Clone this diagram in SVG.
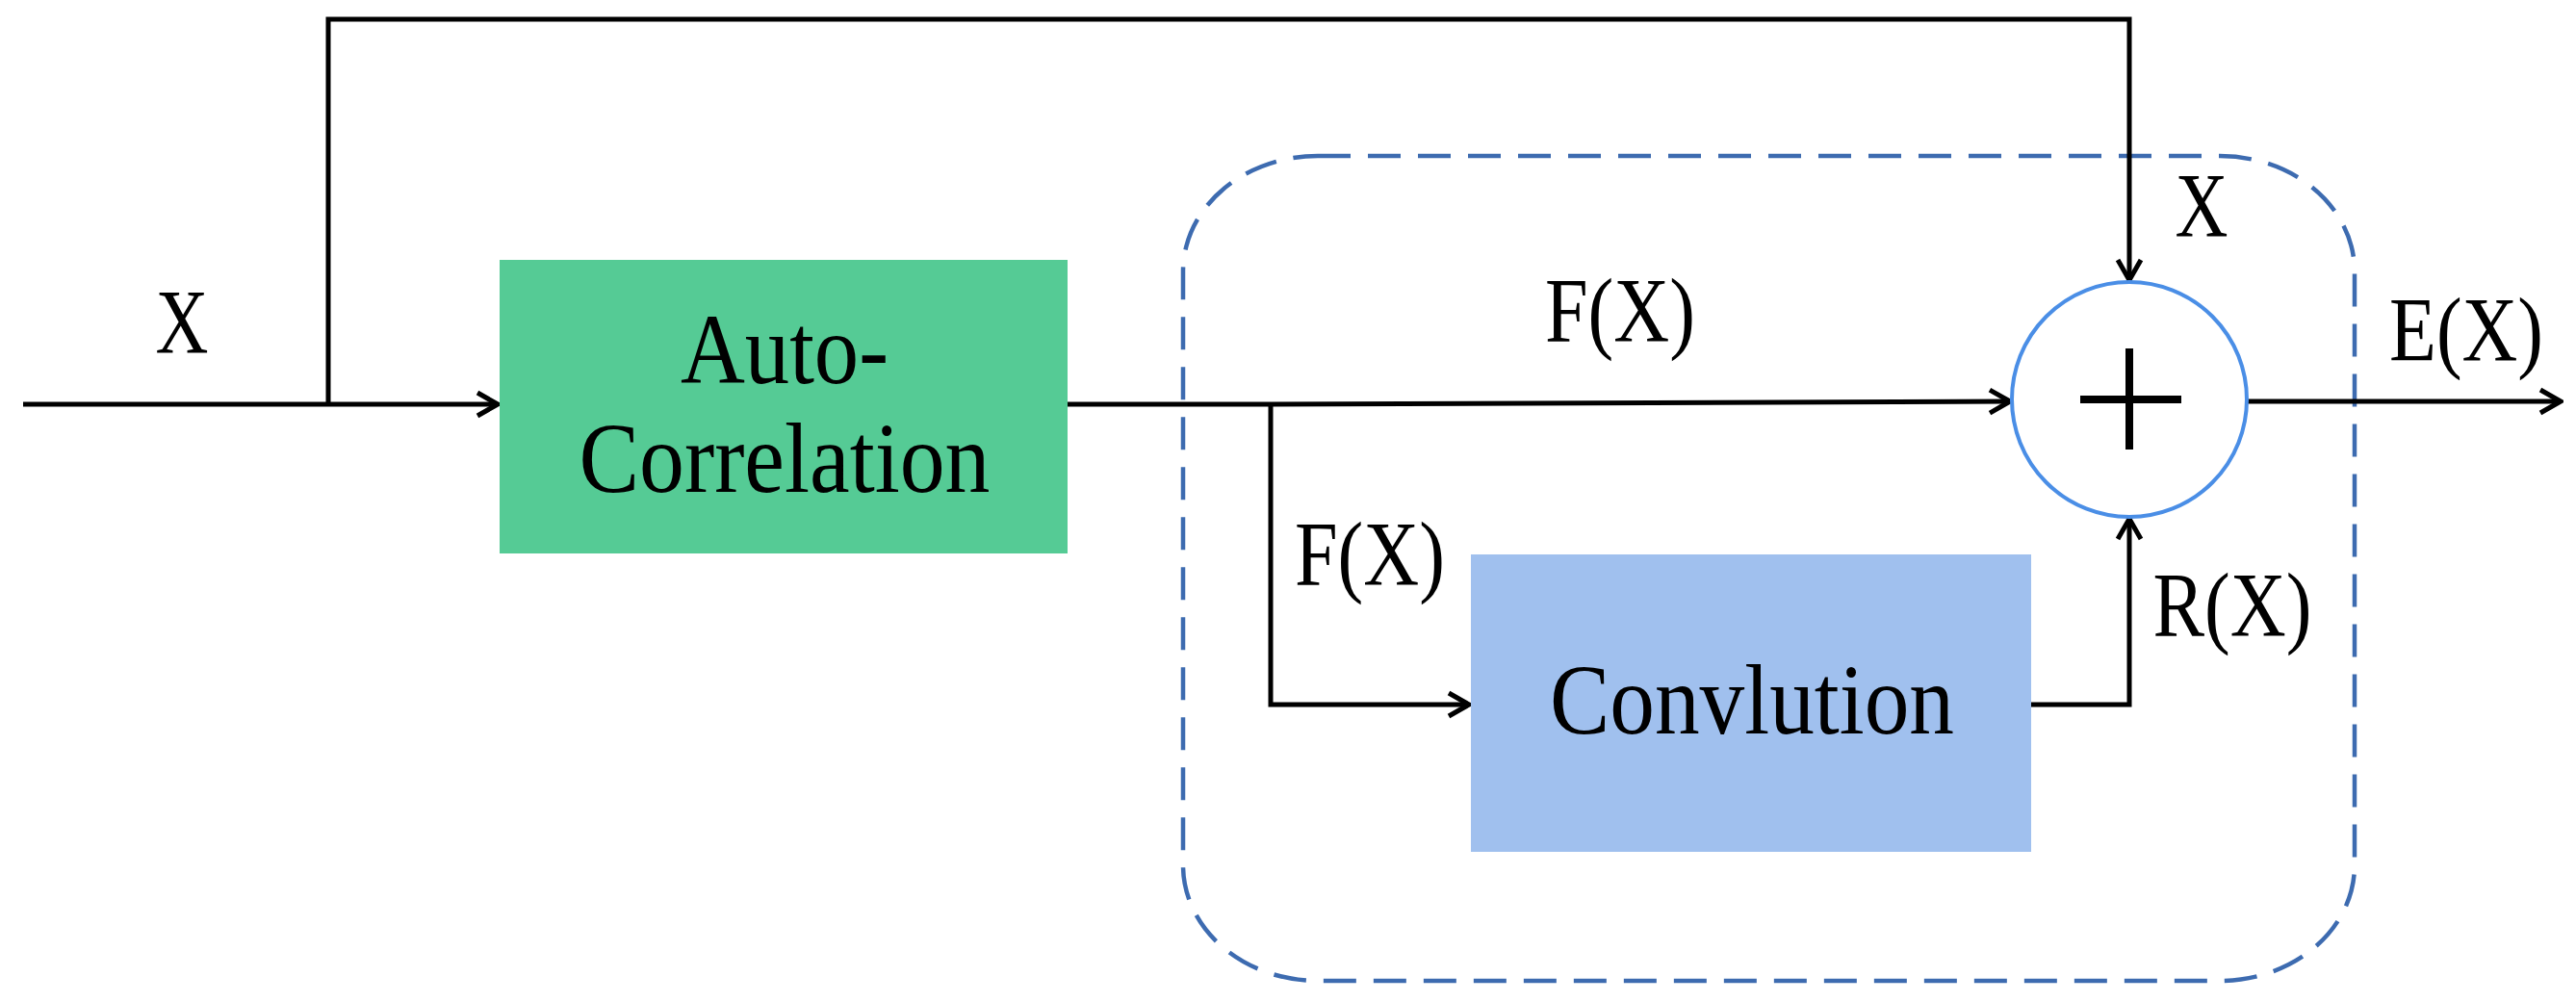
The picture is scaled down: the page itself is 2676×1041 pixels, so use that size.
<svg xmlns="http://www.w3.org/2000/svg" width="2676" height="1041" viewBox="0 0 2676 1041">
<style>
.l{fill:none;stroke:#000;stroke-width:5}
.t{font-family:"Liberation Serif",serif;font-size:96px;text-anchor:middle;fill:#000}
.b{font-family:"Liberation Serif",serif;font-size:104px;text-anchor:middle;fill:#000}
</style>
<defs>
<marker id="a" viewBox="0 0 30 30" refX="27" refY="15" markerWidth="30" markerHeight="30" markerUnits="userSpaceOnUse" orient="auto">
<path d="M6,3 L27,15 L6,27" fill="none" stroke="#000" stroke-width="5"/>
</marker>
</defs>
<rect x="0" y="0" width="2676" height="1041" fill="#fff"/>
<g id="group">
<rect x="1229" y="162" width="1217" height="857" rx="140" ry="120" fill="none" stroke="#3d6bb0" stroke-width="4.5" stroke-dasharray="34 18"/>
</g>
<g id="connectors">
<path class="l" d="M24,420 H517" marker-end="url(#a)"/>
<path class="l" d="M341,420 V20 H2212 V291" marker-end="url(#a)"/>
<path class="l" d="M1109,420 H1320 L2088,417" marker-end="url(#a)"/>
<path class="l" d="M1320,420 V732 H1526" marker-end="url(#a)"/>
<path class="l" d="M2110,732 H2212 V539" marker-end="url(#a)"/>
<path class="l" d="M2334,417 H2660" marker-end="url(#a)"/>
</g>
<g id="autocorr">
<rect x="519" y="270" width="590" height="305" fill="#55cb95"/>
<text class="b" x="815" y="398" textLength="216" lengthAdjust="spacingAndGlyphs">Auto-</text>
<text class="b" x="815" y="511" textLength="427" lengthAdjust="spacingAndGlyphs">Correlation</text>
</g>
<g id="conv">
<rect x="1528" y="576" width="582" height="309" fill="#a0c0ee"/>
<text class="b" x="1820" y="762" textLength="420" lengthAdjust="spacingAndGlyphs">Convlution</text>
</g>
<g id="sum">
<circle cx="2212" cy="415" r="122" fill="#fff" stroke="#4a8ee6" stroke-width="4"/>
<path d="M2161,415 H2266 M2212,362 V467" stroke="#000" stroke-width="8"/>
</g>
<g id="labels">
<text class="t" x="189" y="367" textLength="55" lengthAdjust="spacingAndGlyphs">X</text>
<text class="t" x="1683" y="355" textLength="156" lengthAdjust="spacingAndGlyphs">F(X)</text>
<text class="t" x="1423" y="608" textLength="156" lengthAdjust="spacingAndGlyphs">F(X)</text>
<text class="t" x="2287" y="246" textLength="55" lengthAdjust="spacingAndGlyphs">X</text>
<text class="t" x="2562" y="375" textLength="160" lengthAdjust="spacingAndGlyphs">E(X)</text>
<text class="t" x="2319" y="661" textLength="165" lengthAdjust="spacingAndGlyphs">R(X)</text>
</g>
</svg>
